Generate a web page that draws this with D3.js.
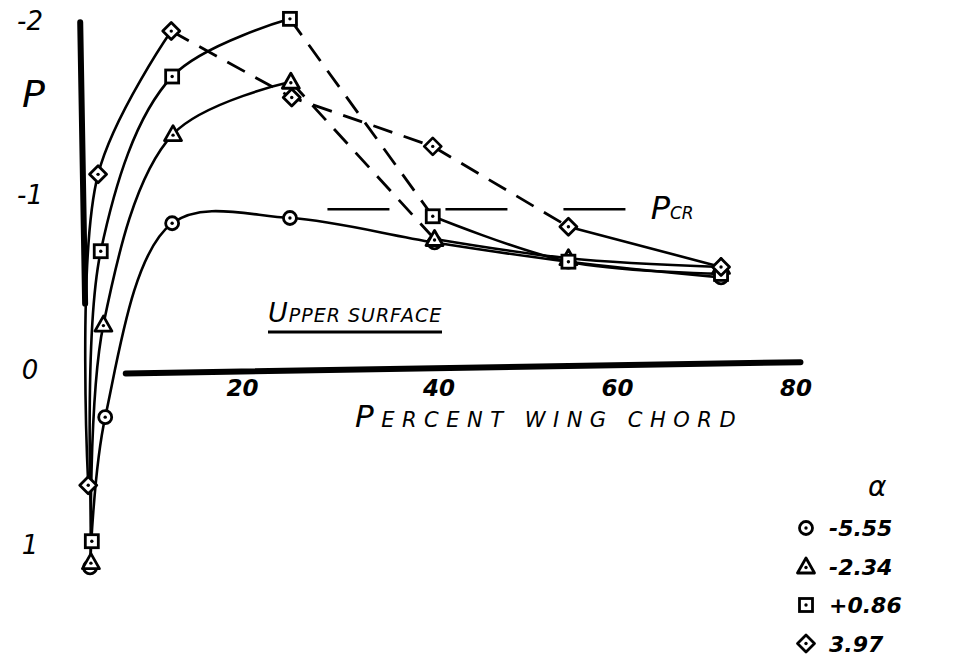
<!DOCTYPE html>
<html>
<head>
<meta charset="utf-8">
<script src="https://cdn.jsdelivr.net/npm/d3@7/dist/d3.min.js"></script>
<style>
  html, body { margin: 0; padding: 0; background: #fff; }
  svg { display: block; }
  text { font-family: "DejaVu Sans", sans-serif; font-style: italic; fill: #000; }
</style>
</head>
<body>
<svg id="chart" width="976" height="670"></svg>
<script>
// Upper-surface pressure coefficient P versus percent wing chord, four angles of attack

const alphaLabels = ["-5.55", "-2.34", "+0.86", "3.97"];
const markerKinds = ["circle", "triangle", "square", "diamond"];

// chord stations (percent) and P for each angle of attack
const chordCircle   = [0.9, 2.6, 10.1, 23.3, 39.5, 54.5, 71.6];
const pCircle       = [1.13, 0.27, -0.84, -0.87, -0.73, -0.62, -0.53];

const chordTriangle = [1.0, 2.4, 10.2, 23.4, 39.5, 54.5, 71.6];
const pTriangle     = [1.10, -0.26, -1.35, -1.65, -0.75, -0.64, -0.59];

const chordSquare   = [1.1, 2.1, 10.1, 23.3, 39.3, 54.5, 71.6];
const pSquare       = [0.98, -0.68, -1.68, -2.01, -0.88, -0.62, -0.55];

const chordDiamond  = [0.7, 1.8, 10.0, 23.5, 39.3, 54.5, 71.6];
const pDiamond      = [0.66, -1.12, -1.94, -1.56, -1.28, -0.82, -0.59];

// index ranges joined by dashed straight segments (the rest is a smooth solid curve)
const dashedCircle   = [];
const dashedTriangle = [[3, 4]];
const dashedSquare   = [[3, 4]];
const dashedDiamond  = [[2, 5]];

const pCritical = -0.92;
const pCriticalSpan = [27.5, 62.6];

const xTicks = [20, 40, 60, 80];
const yTicks = [-2, -1, 0, 1];
const yTickText = ["-2", "-1", "0", "1"];

const series = [
  { x: chordCircle,   p: pCircle,   dashed: dashedCircle },
  { x: chordTriangle, p: pTriangle, dashed: dashedTriangle },
  { x: chordSquare,   p: pSquare,   dashed: dashedSquare },
  { x: chordDiamond,  p: pDiamond,  dashed: dashedDiamond }
].map((s, i) => ({ ...s, kind: markerKinds[i], label: alphaLabels[i] }));

const svg = d3.select("#chart");

const x = d3.scaleLinear().domain([0, 80]).range([82, 796]);
const y = d3.scaleLinear().domain([-2, 1]).range([20.6, 544.7]);

const ink = "#000";

// axes
svg.append("line")
  .attr("x1", x(-0.2)).attr("y1", y(-1.99))
  .attr("x2", x(0.35)).attr("y2", y(-0.38))
  .attr("stroke", ink).attr("stroke-width", 6).attr("stroke-linecap", "round");

svg.append("line")
  .attr("x1", x(4.9)).attr("y1", y(0.02))
  .attr("x2", x(80.5)).attr("y2", y(-0.045))
  .attr("stroke", ink).attr("stroke-width", 6).attr("stroke-linecap", "round");

// y tick labels
svg.selectAll("text.ytick").data(yTicks).join("text")
  .attr("class", "ytick")
  .attr("x", 30).attr("y", d => y(d) + 9)
  .attr("text-anchor", "middle")
  .attr("font-size", 26)
  .text((d, i) => yTickText[i]);

// x tick labels
svg.selectAll("text.xtick").data(xTicks).join("text")
  .attr("class", "xtick")
  .attr("x", d => x(d) - (d === 20 ? 18 : 0)).attr("y", y(0) + 26)
  .attr("text-anchor", "middle")
  .attr("font-size", 23)
  .attr("font-weight", "bold")
  .text(d => d);

// axis titles
svg.append("text").attr("x", 22).attr("y", 107).attr("font-size", 38).text("P");

const xt = svg.append("text").attr("x", 355).attr("y", 427).attr("letter-spacing", 7.5);
xt.append("tspan").attr("font-size", 31).text("P");
xt.append("tspan").attr("font-size", 21).text("ERCENT WING CHORD");

const ut = svg.append("text").attr("x", 268).attr("y", 322).attr("letter-spacing", 1);
ut.append("tspan").attr("font-size", 27).text("U");
ut.append("tspan").attr("font-size", 19).text("PPER SURFACE");
svg.append("line")
  .attr("x1", 268).attr("x2", 442).attr("y1", 332).attr("y2", 332)
  .attr("stroke", ink).attr("stroke-width", 3);

// critical pressure line
svg.append("line")
  .attr("x1", x(pCriticalSpan[0])).attr("x2", x(pCriticalSpan[1]))
  .attr("y1", y(pCritical)).attr("y2", y(pCritical))
  .attr("stroke", ink).attr("stroke-width", 2.5)
  .attr("stroke-dasharray", "62,56");
const pcr = svg.append("text").attr("x", x(pCriticalSpan[1]) + 10).attr("y", y(pCritical) + 10);
pcr.append("tspan").attr("font-size", 32).text("P");
pcr.append("tspan").attr("font-size", 17).text("CR");

// curves
const smooth = d3.line().x(d => x(d[0])).y(d => y(d[1])).curve(d3.curveCatmullRom.alpha(0.5));
const straight = d3.line().x(d => x(d[0])).y(d => y(d[1]));

series.forEach(s => {
  const pts = s.x.map((c, i) => [c, s.p[i]]);
  const n = pts.length;
  // split into solid runs and dashed runs
  const dashedEdge = i => s.dashed.some(([a, b]) => i >= a && i < b);
  let run = [pts[0]];
  let runDashed = dashedEdge(0);
  const runs = [];
  for (let i = 0; i < n - 1; i++) {
    const d = dashedEdge(i);
    if (d !== runDashed) {
      runs.push({ pts: run, dashed: runDashed });
      run = [pts[i]];
      runDashed = d;
    }
    run.push(pts[i + 1]);
  }
  runs.push({ pts: run, dashed: runDashed });
  runs.forEach(r => {
    svg.append("path")
      .attr("d", r.dashed ? straight(r.pts) : smooth(r.pts))
      .attr("fill", "none").attr("stroke", ink)
      .attr("stroke-width", r.dashed ? 2.8 : 2.6)
      .attr("stroke-dasharray", r.dashed ? "20,12" : null);
  });
});

// markers
function drawMarker(g, kind, cx, cy) {
  const sw = 2.8;
  if (kind === "circle") {
    g.append("circle").attr("cx", cx).attr("cy", cy).attr("r", 6.5)
      .attr("fill", "#fff").attr("stroke", ink).attr("stroke-width", sw);
  } else if (kind === "triangle") {
    const h = 7.5;
    g.append("path")
      .attr("d", `M${cx},${cy - h - 1}L${cx + h + 1},${cy + h - 1}L${cx - h - 1},${cy + h - 1}Z`)
      .attr("fill", "#fff").attr("stroke", ink).attr("stroke-width", sw).attr("stroke-linejoin", "round");
  } else if (kind === "square") {
    g.append("rect").attr("x", cx - 6.5).attr("y", cy - 6.5).attr("width", 13).attr("height", 13)
      .attr("fill", "#fff").attr("stroke", ink).attr("stroke-width", sw);
  } else {
    const h = 8.5;
    g.append("path")
      .attr("d", `M${cx},${cy - h}L${cx + h},${cy}L${cx},${cy + h}L${cx - h},${cy}Z`)
      .attr("fill", "#fff").attr("stroke", ink).attr("stroke-width", sw).attr("stroke-linejoin", "round");
  }
  g.append("circle").attr("cx", cx).attr("cy", cy + (kind === "triangle" ? 1 : 0)).attr("r", 1.7).attr("fill", ink);
}

series.forEach(s => {
  const g = svg.append("g");
  s.x.forEach((c, i) => drawMarker(g, s.kind, x(c), y(s.p[i])));
});

// legend
const legend = svg.append("g");
legend.append("text").attr("x", 868).attr("y", 496).attr("font-size", 28).text("α");
series.forEach((s, i) => {
  const ly = 528 + i * 38.5;
  drawMarker(legend, s.kind, 806, ly);
  legend.append("text").attr("x", 829).attr("y", ly + 8)
    .attr("font-size", 22).attr("font-weight", "bold").text(s.label);
});
</script>
</body>
</html>
